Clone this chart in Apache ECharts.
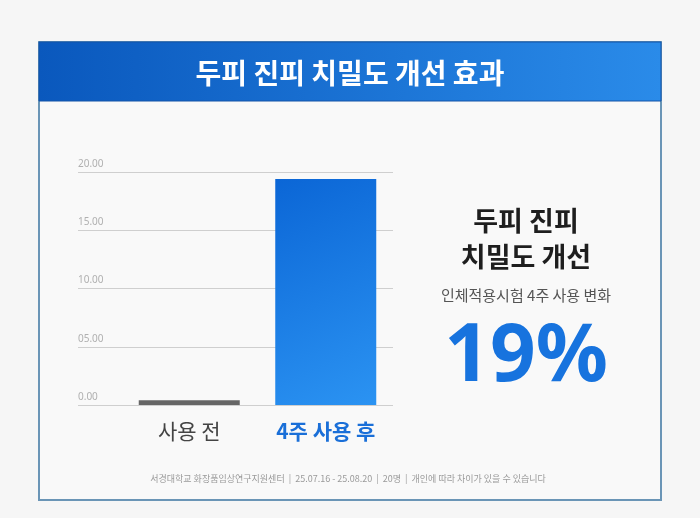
<!DOCTYPE html>
<html>
<head>
<meta charset="utf-8">
<script src="https://cdn.jsdelivr.net/npm/echarts@6/dist/echarts.min.js"></script>
<style>
  html, body { margin: 0; padding: 0; background: #f6f6f6; }
  #chart { width: 700px; height: 518px; }
</style>
</head>
<body>
<div id="chart"></div>
<script>
// 차트 데이터
const categories = ['사용 전', '4주 사용 후'];
const values = [0.4, 19.4];
const yTickLabels = ['0.00', '05.00', '10.00', '15.00', '20.00'];

const titleText = '두피 진피 치밀도 개선 효과';
const sideLines = ['두피 진피', '치밀도 개선'];
const sideSub = '인체적용시험 4주 사용 변화';
const bigNumber = '19%';
const footText = '서경대학교 화장품임상연구지원센터  |  25.07.16 - 25.08.20  |  20명  |  개인에 따라 차이가 있을 수 있습니다';

const KR = '"Noto Sans CJK KR", "Noto Sans", sans-serif';
const chart = echarts.init(document.getElementById('chart'));

const barColors = [
  '#666666',
  new echarts.graphic.LinearGradient(0, 0, 1, 1, [
    { offset: 0, color: '#0b66d6' },
    { offset: 1, color: '#2b93f2' }
  ])
];

const option = {
  backgroundColor: '#f6f6f6',
  animation: false,
  graphic: [
    // 카드 테두리
    {
      type: 'rect', z: 0,
      shape: { x: 39, y: 42, width: 622, height: 458 },
      style: { fill: '#f9f9f9', stroke: '#6a95b6', lineWidth: 2 }
    },
    // 헤더 배경
    {
      type: 'rect', z: 1,
      shape: { x: 39, y: 42, width: 622, height: 59 },
      style: {
        fill: new echarts.graphic.LinearGradient(0, 0, 1, 0, [
          { offset: 0, color: '#0a58bd' },
          { offset: 1, color: '#2a8be9' }
        ]),
        stroke: '#1554a8', lineWidth: 1
      }
    },
    {
      type: 'text', z: 2, x: 350, y: 73,
      style: {
        text: titleText, fill: '#ffffff', font: 'bold 28px ' + KR,
        align: 'center', verticalAlign: 'middle'
      }
    },
    {
      type: 'text', z: 2, x: 526, y: 221,
      style: {
        text: sideLines[0], fill: '#1e1e1e', font: 'bold 27px ' + KR,
        align: 'center', verticalAlign: 'middle'
      }
    },
    {
      type: 'text', z: 2, x: 526, y: 257,
      style: {
        text: sideLines[1], fill: '#1e1e1e', font: 'bold 27px ' + KR,
        align: 'center', verticalAlign: 'middle'
      }
    },
    {
      type: 'text', z: 2, x: 526, y: 295,
      style: {
        text: sideSub, fill: '#555555', font: '15px ' + KR,
        align: 'center', verticalAlign: 'middle'
      }
    },
    {
      type: 'text', z: 2, x: 526, y: 358,
      style: {
        text: bigNumber, fill: '#1773de',
        font: 'bold 80px "Noto Sans", sans-serif',
        align: 'center', verticalAlign: 'middle'
      }
    },
    {
      type: 'text', z: 2, x: 348, y: 479,
      style: {
        text: footText, fill: '#9a9a9a', font: '9px ' + KR,
        align: 'center', verticalAlign: 'middle'
      }
    }
  ],
  grid: [
    { left: 78, right: 307, top: 172, bottom: 113 },
    { left: 121, right: 306, top: 172, bottom: 113 }
  ],
  xAxis: [
    { type: 'category', gridIndex: 0, data: categories, show: false },
    {
      type: 'category', gridIndex: 1, data: categories,
      axisLine: { show: false }, axisTick: { show: false },
      axisLabel: {
        margin: 16,
        formatter: (v, i) => (i === 0 ? '{a|' + v + '}' : '{b|' + v + '}'),
        rich: {
          a: { fontSize: 21, color: '#444444', fontFamily: KR },
          b: { fontSize: 21, color: '#1a6fd8', fontWeight: 'bold', fontFamily: KR }
        }
      }
    }
  ],
  yAxis: [
    {
      type: 'value', gridIndex: 0, min: 0, max: 20, interval: 5,
      axisLine: { show: false }, axisTick: { show: false },
      splitLine: { lineStyle: { color: '#cfcfcf', width: 1 } },
      axisLabel: {
        inside: true, margin: 0, align: 'left', verticalAlign: 'bottom',
        padding: [0, 0, 3, 0],
        color: '#b0b0b0', fontSize: 10, fontFamily: '"Noto Sans", sans-serif',
        formatter: (v, i) => yTickLabels[i]
      }
    },
    { type: 'value', gridIndex: 1, min: 0, max: 20, interval: 5, show: false }
  ],
  series: [
    {
      type: 'bar', xAxisIndex: 1, yAxisIndex: 1, barWidth: 101,
      data: values.map((v, i) => ({ value: v, itemStyle: { color: barColors[i] } }))
    }
  ]
};

chart.setOption(option);
</script>
</body>
</html>
